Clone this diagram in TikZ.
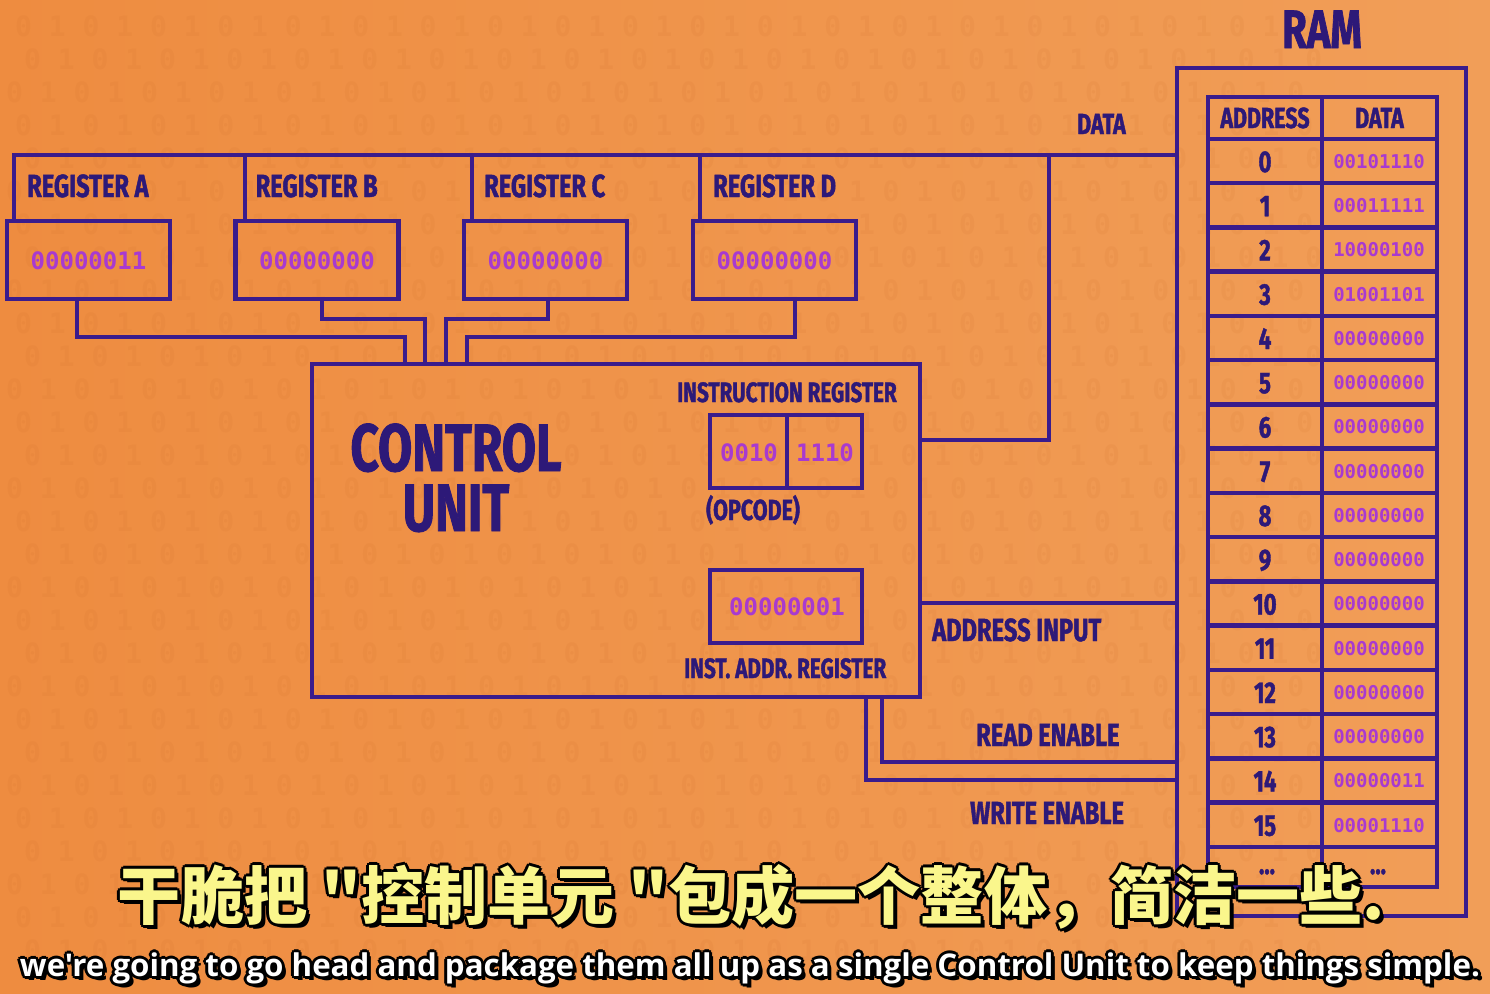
\documentclass[tikz,border=0pt]{standalone}
\usepackage{fontspec}
\usepackage{graphicx}
\setmainfont{Fira Sans}
\newfontfamily\hd{Fira Sans}[FakeStretch=0.74,FakeBold=1.3]
\newfontfamily\mono{DejaVu Sans Mono}
\newfontfamily\cjk{Noto Sans CJK SC}
\newfontfamily\subf{Open Sans}
\definecolor{bgl}{RGB}{238,140,64}
\definecolor{bgr}{RGB}{241,158,88}
\definecolor{bgd}{RGB}{190,95,30}
\definecolor{wirec}{RGB}{58,28,140}
\definecolor{ink}{RGB}{45,25,120}
\definecolor{digc}{RGB}{168,58,208}
\definecolor{suby}{RGB}{250,246,140}
\begin{document}
\begin{tikzpicture}[x=1pt,y=-1pt,
  wire/.style={draw=wirec,line width=4.5pt},
  boxn/.style={draw=wirec,line width=4.5pt,inner sep=0pt,outer sep=0pt},
  lab/.style={text=ink,inner sep=0pt,font={\hd\bfseries\fontsize{#1}{#1}\selectfont}},
  lab/.default=32,
  dig/.style={text=digc,inner sep=0pt,font={\mono\bfseries\fontsize{#1}{#1}\selectfont}},
  dig/.default=24,
  bgtext/.style={text=bgd,text opacity=0.08,inner sep=0pt,font={\mono\bfseries\fontsize{28}{28}\selectfont}},
  outl/.style={text=black,inner sep=0pt}]
\useasboundingbox (0,0) rectangle (1490,993);
\fill[left color=bgl,right color=bgr] (0,0) rectangle (1490,993);
% faint binary background
\foreach \r [count=\k] in {0,...,28}{
  \node[bgtext,anchor=west] (bg\k) at ({6+9*mod(\k,3)},{26+33*\r})
   {\ifodd\k 1 0 1 0 1 0 1 0 1 0  1 0 1 0 1 0 1 0 1 0 1   0 1 0 1 0 1 0 1 0 1 0 1 0 1 0 1 0 1 0\else 0 1 0 1 0 1   1 0 1 0 1 0 1 0 1 0 1 0 1 0 1 0  1 0 1 0 1 0 1 0 1 0 1 0 1 0 1 0 1 0\fi};
}
% coordinates for wire levels
\coordinate (yBus) at (0,155);
\coordinate (yData) at (0,440);
\coordinate (yAddr) at (0,603);
\coordinate (yRead) at (0,762);
\coordinate (yWrite) at (0,780);
\coordinate (dj) at (1049,155);
% registers
\foreach \n/\x/\v in {A/88.5/00000011,B/317/00000000,C/545.5/00000000,D/774.5/00000000}{
  \node[boxn,minimum width=163pt,minimum height=78pt] (reg\n) at (\x,260) {};
  \node[dig] (val\n) at (\x,261) {\v};
  \node[lab,anchor=base west] (lab\n) at (\x-61.5,197) {REGISTER \n};
}
% control unit
\node[boxn,minimum width=608pt,minimum height=333pt] (cu) at (616,530.5) {};
\node[lab=67,anchor=base] (cuT1) at (456,471) {CONTROL};
\node[lab=67,anchor=base] (cuT2) at (456,531) {UNIT};
\node[lab=28,anchor=base west] (irl) at (677,402) {INSTRUCTION REGISTER};
\node[boxn,minimum width=77pt,minimum height=73pt] (ir1) at (748.5,451.5) {};
\node[boxn,minimum width=75pt,minimum height=73pt] (ir2) at (824.5,451.5) {};
\node[dig] (irv1) at (749,453) {0010};
\node[dig] (irv2) at (825,453) {1110};
\node[lab=29,anchor=base west] (opc) at (706,520) {(OPCODE)};
\node[boxn,minimum width=152pt,minimum height=73pt] (iar) at (786,606.5) {};
\node[dig] (iarv) at (787,607) {00000001};
\node[lab=28,anchor=base west] (iarl) at (684,678) {INST. ADDR. REGISTER};
% RAM
\node[lab=54,anchor=base] (ramT) at (1322,48) {RAM};
\node[boxn,minimum width=289pt,minimum height=848pt] (ram) at (1321.5,492) {};
\node[boxn,minimum width=114pt,minimum height=42pt] (hA) at (1265,118) {};
\node[boxn,minimum width=115pt,minimum height=42pt] (hD) at (1379.5,118) {};
\node[lab=29,anchor=base] (hAt) at (1265,128) {ADDRESS};
\node[lab=29,anchor=base] (hDt) at (1379.5,128) {DATA};
\foreach \v [count=\i from 0] in {00101110,00011111,10000100,01001101,00000000,00000000,00000000,00000000,00000000,00000000,00000000,00000000,00000000,00000000,00000011,00001110}{
  \node[boxn,minimum width=114pt,minimum height=44.25pt] (ca\i) at (1265,{161.1+44.25*\i}) {};
  \node[boxn,minimum width=115pt,minimum height=44.25pt] (cd\i) at (1379.5,{161.1+44.25*\i}) {};
  \node[lab=30,anchor=base] (cat\i) at (1265,{172+44.25*\i}) {\i};
  \node[dig=19] (cdt\i) at (1379,{161.5+44.25*\i}) {\v};
}
\node[boxn,minimum width=114pt,minimum height=40pt] (caX) at (1265,867) {};
\node[boxn,minimum width=115pt,minimum height=40pt] (cdX) at (1379.5,867) {};
\node[lab=30,anchor=base] (catX) at (1267,874) {...};
\node[lab=30,anchor=base] (cdtX) at (1378,874) {...};
% wires: data bus
\draw[wire] ([xshift=7pt]regA.north west) |- (ram.west |- yBus);
\draw[wire] ([xshift=9.5pt]regB.north west) -- ++(0,-66);
\draw[wire] ([xshift=8pt]regC.north west) -- ++(0,-66);
\draw[wire] ([xshift=7pt]regD.north west) -- ++(0,-66);
\draw[wire] (dj) |- (cu.east |- yData);
\node[lab=29,anchor=base west] (dataL) at (1077,134) {DATA};
% registers to control unit
\draw[wire] ([xshift=-11.5pt]regA.south) -- ++(0,38) -| ([xshift=93pt]cu.north west);
\draw[wire] ([xshift=5pt]regB.south) -- ++(0,20) -| ([xshift=113pt]cu.north west);
\draw[wire] ([xshift=2.5pt]regC.south) -- ++(0,20) -| ([xshift=134pt]cu.north west);
\draw[wire] ([xshift=20.5pt]regD.south) -- ++(0,38) -| ([xshift=155pt]cu.north west);
% control lines to RAM
\draw[wire] (cu.east |- yAddr) -- (ram.west |- yAddr);
\draw[wire] ([xshift=-38pt]cu.south east) |- (ram.west |- yRead);
\draw[wire] ([xshift=-54pt]cu.south east) |- (ram.west |- yWrite);
\node[lab,anchor=base west] (addrL) at (932,641) {ADDRESS INPUT};
\node[lab,anchor=base west] (readL) at (976,746) {READ ENABLE};
\node[lab,anchor=base west] (writeL) at (970,824) {WRITE ENABLE};
% subtitles
\def\zhtext{\resizebox{1267pt}{!}{\cjk\bfseries\fontsize{58}{58}\selectfont 干脆把 "控制单元 "包成一个整体，简洁一些.}}
\def\entext{\resizebox{1460pt}{!}{\subf\bfseries\fontsize{32}{32}\selectfont we're going to go head and package them all up as a single Control Unit to keep things simple.}}
\foreach \dx/\dy [count=\k] in {4/4,-3/0,3/0,0/-3,0/3,-2/-2,2/2,-2/2,2/-2}{
  \node[outl] (zhO\k) at (751.5+\dx,897+\dy) {\zhtext};
  \node[outl] (enO\k) at (750+\dx,968+\dy) {\entext};
}
\node[inner sep=0pt,text=suby] (zh) at (751.5,897) {\zhtext};
\node[inner sep=0pt,text=white] (en) at (750,968) {\entext};
\end{tikzpicture}
\end{document}
